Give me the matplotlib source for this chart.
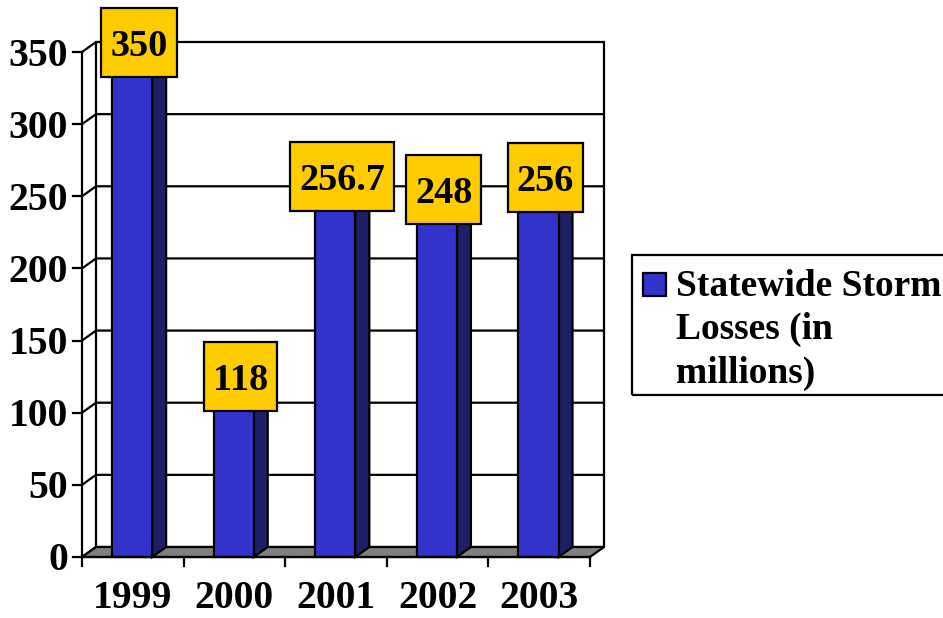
import matplotlib
matplotlib.use('Agg')
import matplotlib.pyplot as plt
from matplotlib.patches import Polygon, Rectangle
from matplotlib.transforms import IdentityTransform

years = ['1999', '2000', '2001', '2002', '2003']
losses = [350, 118, 256.7, 248, 256]
value_labels = ['350', '118', '256.7', '248', '256']
yticks = [0, 50, 100, 150, 200, 250, 300, 350]
legend_text = 'Statewide Storm\nLosses (in\nmillions)'

front_col = '#3333CC'
side_col = '#1F1F66'
top_col = '#2A2AA8'
gold = '#FFCC00'
floor_col = '#808080'

plt.rcParams['font.family'] = ['Liberation Serif', 'DejaVu Serif']
plt.rcParams['font.weight'] = 'bold'

W, H = 943, 618
fig = plt.figure(figsize=(W / 100, H / 100), dpi=100)
ax = fig.add_axes([82 / W, 61 / H, 508 / W, 505 / H])
n = len(years)
ymax = 350
ax.set_xlim(0, n)
ax.set_ylim(0, ymax)
ax.axis('off')
renderer = fig.canvas.get_renderer()

# depth offset of the fake 3d box (data units)
dx, dy = 0.138, 6.93
lw = 1.6
px = ymax / 505.0  # value units per pixel

# walls and grid
for t in yticks:
    ax.plot([0, dx, n + dx], [t, t + dy, t + dy], color='black', lw=lw,
            clip_on=False, zorder=1, solid_capstyle='butt')
ax.plot([dx, dx], [dy, ymax + dy], color='black', lw=lw, clip_on=False, zorder=1)
ax.plot([n + dx, n + dx], [dy, ymax + dy], color='black', lw=lw, clip_on=False, zorder=1)

# floor
ax.add_patch(Polygon([(0, 0), (n, 0), (n + dx, dy), (dx, dy)], closed=True,
                     fc=floor_col, ec='black', lw=lw, clip_on=False, zorder=2))

# bars
for i, v in enumerate(losses):
    x0, x1 = i + 0.295, i + 0.69
    ax.add_patch(Polygon([(x1, 0), (x1 + dx, dy), (x1 + dx, v + dy), (x1, v)],
                         fc=side_col, ec='black', lw=lw, clip_on=False, zorder=3))
    ax.add_patch(Polygon([(x0, v), (x1, v), (x1 + dx, v + dy), (x0 + dx, v + dy)],
                         fc=top_col, ec='black', lw=lw, clip_on=False, zorder=3))
    ax.add_patch(Rectangle((x0, 0), x1 - x0, v, fc=front_col, ec='black',
                           lw=lw, clip_on=False, zorder=3))

    # yellow value box, sized in pixels around the text
    cx, cy = (x0 + x1) / 2 + dx / 2, v + dy
    pcx, pcy = ax.transData.transform((cx, cy))
    txt = fig.text(pcx / W, (pcy - 13.5) / H, value_labels[i], ha='center', va='baseline',
                   fontsize=27.5, fontweight='bold', zorder=7)
    tw = txt.get_window_extent(renderer).width
    bw, bh = tw + 18, 69
    fig.add_artist(Rectangle((pcx - bw / 2, pcy - bh / 2), bw, bh, transform=IdentityTransform(),
                             fc=gold, ec='black', lw=lw, zorder=6))

# front axes
ax.plot([0, 0], [0, ymax], color='black', lw=lw, clip_on=False, zorder=4)
ax.plot([0, n], [0, 0], color='black', lw=lw, clip_on=False, zorder=4)
for t in yticks:
    ax.plot([-0.089, 0], [t, t], color='black', lw=lw, clip_on=False, zorder=4)
    ax.text(-0.138, t - 13.5 * px, str(t), ha='right', va='baseline', fontsize=28.5,
            fontweight='bold')
for i in range(n + 1):
    ax.plot([i, i], [0, -9 * px], color='black', lw=lw, clip_on=False, zorder=4)
for i, yr in enumerate(years):
    ax.text(i + 0.5, -51 * px, yr, ha='center', va='baseline', fontsize=28.5,
            fontweight='bold')

# legend
fig.add_artist(Rectangle((632 / W, 1 - 395 / H), 340 / W, 140 / H, transform=fig.transFigure,
                         fill=False, ec='black', lw=lw))
fig.add_artist(Rectangle((643 / W, 1 - 296 / H), 23 / W, 23 / H, transform=fig.transFigure,
                         fc=front_col, ec='black', lw=lw))
fig.text(676 / W, 1 - 269 / H, legend_text, ha='left', va='top', fontsize=27,
         fontweight='bold', linespacing=1.31)

fig.savefig('out.png', dpi=100)
